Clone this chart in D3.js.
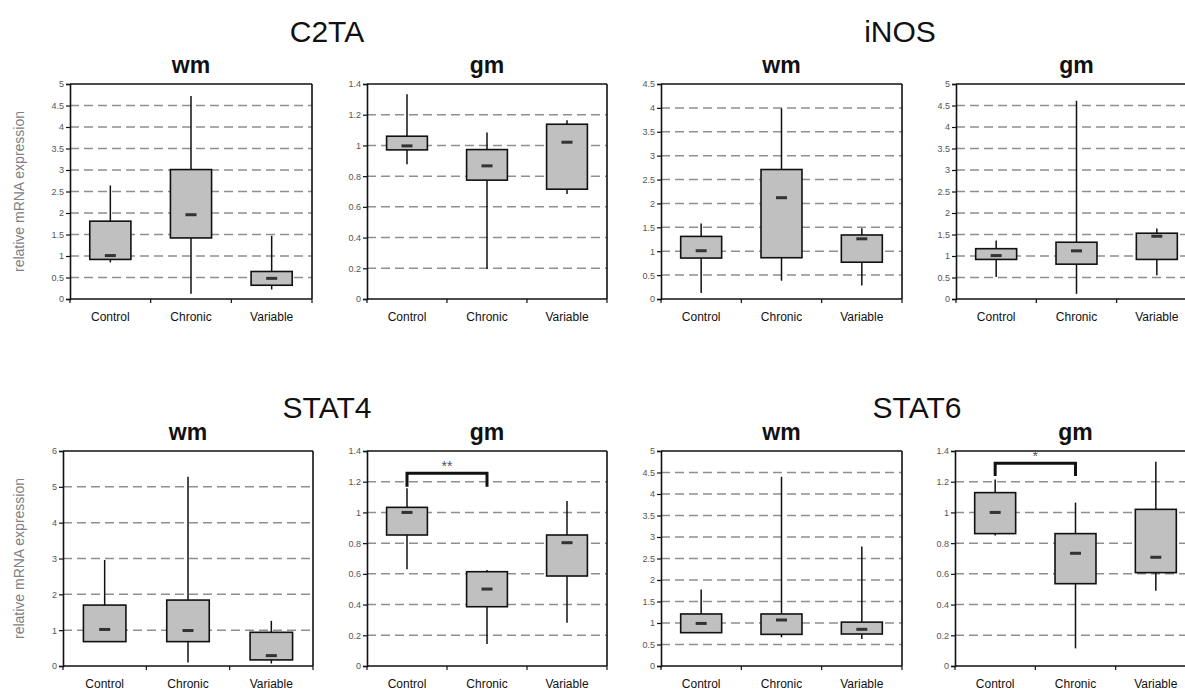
<!DOCTYPE html>
<html>
<head>
<meta charset="utf-8">
<script src="https://cdn.jsdelivr.net/npm/d3@7"></script>
<style>
  html, body { margin: 0; padding: 0; background: #fff; }
  svg { display: block; font-family: "Liberation Sans", Arial, sans-serif; }
</style>
</head>
<body>
<svg id="chart" width="1185" height="691"></svg>
<script>
// Groups compared in every panel
const groups = ["Control", "Chronic", "Variable"];

// Box statistics per group: [whisker low, lower box, marker, upper box, whisker high]
const c2taWm  = [[0.85, 0.92, 1.01, 1.81, 2.64], [0.12, 1.42, 1.96, 3.01, 4.72], [0.22, 0.32, 0.48, 0.64, 1.47]];
const c2taGm  = [[0.878, 0.971, 0.997, 1.06, 1.333], [0.195, 0.774, 0.867, 0.973, 1.084], [0.683, 0.715, 1.021, 1.138, 1.164]];
const inosWm  = [[0.125, 0.857, 1.01, 1.31, 1.58], [0.383, 0.864, 2.12, 2.71, 3.99], [0.28, 0.77, 1.26, 1.34, 1.48]];
const inosGm  = [[0.51, 0.92, 1.01, 1.17, 1.36], [0.12, 0.81, 1.12, 1.32, 4.61], [0.55, 0.92, 1.46, 1.53, 1.64]];
const stat4Wm = [[0.68, 0.68, 1.02, 1.70, 2.96], [0.10, 0.68, 0.99, 1.84, 5.28], [0.07, 0.17, 0.29, 0.94, 1.26]];
const stat4Gm = [[0.63, 0.853, 1.0, 1.033, 1.157], [0.143, 0.386, 0.501, 0.614, 0.625], [0.282, 0.586, 0.803, 0.853, 1.074]];
const stat6Wm = [[0.775, 0.775, 0.99, 1.21, 1.78], [0.667, 0.736, 1.07, 1.21, 4.40], [0.628, 0.744, 0.853, 1.02, 2.78]];
const stat6Gm = [[0.849, 0.862, 1.0, 1.129, 1.215], [0.115, 0.536, 0.734, 0.862, 1.064], [0.49, 0.608, 0.708, 1.02, 1.33]];

// Y tick values
const ticksHalfTo5   = [0, 0.5, 1, 1.5, 2, 2.5, 3, 3.5, 4, 4.5, 5];
const ticksHalfTo4_5 = [0, 0.5, 1, 1.5, 2, 2.5, 3, 3.5, 4, 4.5];
const ticksFifthTo1_4 = [0, 0.2, 0.4, 0.6, 0.8, 1, 1.2, 1.4];
const ticksOneTo6    = [0, 1, 2, 3, 4, 5, 6];

// Significance brackets: [from group, to group, bar level, end level, label]
const stat4GmBracket = ["Control", "Chronic", 1.255, 1.168, "**"];
const stat6GmBracket = ["Control", "Chronic", 1.32, 1.237, "*"];

// Gene titles and tissue subtitles
const geneTitles = ["C2TA", "iNOS", "STAT4", "STAT6"];
const tissueTitles = ["wm", "gm"];
const yAxisTitle = "relative mRNA expression";

const svg = d3.select("#chart");

// Panel layout
const topRow = { y0: 84, y1: 299 };
const botRow = { y0: 451, y1: 666 };
const panels = [
  { data: c2taWm,  ticks: ticksHalfTo5,    x0: 70,  x1: 312,  row: topRow, sub: 0, ylab: true },
  { data: c2taGm,  ticks: ticksFifthTo1_4, x0: 367, x1: 607,  row: topRow, sub: 1 },
  { data: inosWm,  ticks: ticksHalfTo4_5,  x0: 661, x1: 902,  row: topRow, sub: 0 },
  { data: inosGm,  ticks: ticksHalfTo5,    x0: 956, x1: 1197, row: topRow, sub: 1 },
  { data: stat4Wm, ticks: ticksOneTo6,     x0: 63,  x1: 313,  row: botRow, sub: 0, ylab: true },
  { data: stat4Gm, ticks: ticksFifthTo1_4, x0: 367, x1: 607,  row: botRow, sub: 1, bracket: stat4GmBracket },
  { data: stat6Wm, ticks: ticksHalfTo5,    x0: 661, x1: 902,  row: botRow, sub: 0 },
  { data: stat6Gm, ticks: ticksFifthTo1_4, x0: 955, x1: 1196, row: botRow, sub: 1, bracket: stat6GmBracket }
];

const titlePos = [
  { x: 327, y: 42 }, { x: 900, y: 42 }, { x: 327, y: 418 }, { x: 917, y: 418 }
];

geneTitles.forEach((t, i) => {
  svg.append("text")
    .attr("x", titlePos[i].x).attr("y", titlePos[i].y)
    .attr("text-anchor", "middle")
    .attr("font-size", 30)
    .attr("fill", "#111")
    .text(t);
});

const fmt = v => String(+v.toFixed(1));

panels.forEach(p => {
  const { y0, y1 } = p.row;
  const yMax = p.ticks[p.ticks.length - 1];
  const x = d3.scaleBand().domain(groups).range([p.x0, p.x1]).paddingInner(0).paddingOuter(0);
  const y = d3.scaleLinear().domain([0, yMax]).range([y1, y0]);
  const g = svg.append("g");

  // dashed gridlines at inner ticks
  g.selectAll("line.grid")
    .data(p.ticks.filter(t => t > 0 && t < yMax))
    .join("line")
    .attr("x1", p.x0).attr("x2", p.x1)
    .attr("y1", d => y(d)).attr("y2", d => y(d))
    .attr("stroke", "#8f8f8f")
    .attr("stroke-width", 1.5)
    .attr("stroke-dasharray", "9,5");

  // frame top and right edges
  g.append("line").attr("x1", p.x0).attr("x2", p.x1).attr("y1", y0).attr("y2", y0)
    .attr("stroke", "#111").attr("stroke-width", 1.6);
  g.append("line").attr("x1", p.x1).attr("x2", p.x1).attr("y1", y0).attr("y2", y1)
    .attr("stroke", "#111").attr("stroke-width", 1.6);

  // y axis
  const yAxis = g.append("g")
    .attr("transform", `translate(${p.x0},0)`)
    .call(d3.axisLeft(y).tickValues(p.ticks).tickFormat(fmt).tickSize(4).tickPadding(2));
  yAxis.select(".domain").attr("stroke", "#111").attr("stroke-width", 1.6);
  yAxis.selectAll(".tick line").attr("stroke", "#111").attr("stroke-width", 1.2);
  yAxis.selectAll(".tick text").attr("font-size", 9).attr("fill", "#555")
    .attr("font-family", "'Liberation Sans', Arial, sans-serif");

  // x axis with ticks at group boundaries
  const xAxis = g.append("g").attr("transform", `translate(0,${y1})`);
  xAxis.append("line").attr("x1", p.x0).attr("x2", p.x1).attr("y1", 0).attr("y2", 0)
    .attr("stroke", "#111").attr("stroke-width", 1.6);
  const bounds = groups.map(d => x(d)).concat([p.x1]);
  xAxis.selectAll("line.tk").data(bounds).join("line")
    .attr("x1", d => d).attr("x2", d => d).attr("y1", 0).attr("y2", 4)
    .attr("stroke", "#111").attr("stroke-width", 1.2);
  xAxis.selectAll("text").data(groups).join("text")
    .attr("x", d => x(d) + x.bandwidth() / 2)
    .attr("y", 22)
    .attr("text-anchor", "middle")
    .attr("font-size", 12)
    .attr("fill", "#111")
    .text(d => d);

  // tissue subtitle
  g.append("text")
    .attr("x", (p.x0 + p.x1) / 2).attr("y", y0 - 11)
    .attr("text-anchor", "middle")
    .attr("font-size", 23).attr("font-weight", "bold")
    .attr("fill", "#111")
    .text(tissueTitles[p.sub]);

  if (p.ylab) {
    g.append("text")
      .attr("transform", `translate(24,${(y0 + y1) / 2}) rotate(-90)`)
      .attr("text-anchor", "middle")
      .attr("font-size", 14)
      .attr("fill", "#808080")
      .text(yAxisTitle);
  }

  // boxes
  const bw = x.bandwidth() * 0.51;
  const boxes = g.selectAll("g.box").data(p.data.map((s, i) => ({ grp: groups[i], s })))
    .join("g");
  boxes.append("line")
    .attr("x1", d => x(d.grp) + x.bandwidth() / 2).attr("x2", d => x(d.grp) + x.bandwidth() / 2)
    .attr("y1", d => y(d.s[0])).attr("y2", d => y(d.s[4]))
    .attr("stroke", "#111").attr("stroke-width", 1.5);
  boxes.append("rect")
    .attr("x", d => x(d.grp) + (x.bandwidth() - bw) / 2)
    .attr("width", bw)
    .attr("y", d => y(d.s[3]))
    .attr("height", d => y(d.s[1]) - y(d.s[3]))
    .attr("fill", "#c0c0c0")
    .attr("stroke", "#111").attr("stroke-width", 1.6);
  boxes.append("rect")
    .attr("x", d => x(d.grp) + x.bandwidth() / 2 - 5.5)
    .attr("width", 11)
    .attr("y", d => y(d.s[2]) - 1.5)
    .attr("height", 3)
    .attr("fill", "#333");

  // significance bracket
  if (p.bracket) {
    const [a, b, level, end, label] = p.bracket;
    const xa = x(a) + x.bandwidth() / 2, xb = x(b) + x.bandwidth() / 2;
    g.append("path")
      .attr("d", `M${xa},${y(end)}V${y(level)}H${xb}V${y(end)}`)
      .attr("fill", "none").attr("stroke", "#111").attr("stroke-width", 3);
    g.append("text")
      .attr("x", (xa + xb) / 2).attr("y", y(level) - 2)
      .attr("text-anchor", "middle")
      .attr("font-size", 14).attr("fill", "#555")
      .text(label);
  }
});
</script>
</body>
</html>
